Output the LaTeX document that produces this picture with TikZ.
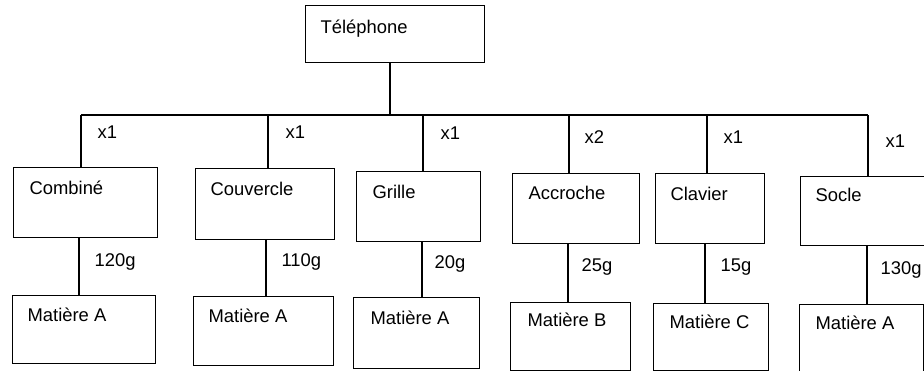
\documentclass[tikz,border=0pt]{standalone}
\usepackage{fontspec}
\setmainfont{Liberation Sans}
\begin{document}
\begin{tikzpicture}[x=0.75pt,y=-0.75pt,
  line width=0.9pt,
  every node/.style={font=\fontsize{13.8}{16}\selectfont},
  box/.style={draw,rectangle,inner sep=0pt,anchor=north west},
  boxtext/.style={anchor=base west,inner sep=0pt},
  lab/.style={anchor=base west,inner sep=0pt}]
\useasboundingbox (0,0) rectangle (924,371);
% boxes: (left,top), width, height
\node[box,minimum width=179*0.75pt,minimum height=57*0.75pt] (tel) at (305,5) {};
\node[box,minimum width=144*0.75pt,minimum height=70*0.75pt] (comb) at (13,167) {};
\node[box,minimum width=139*0.75pt,minimum height=71*0.75pt] (couv) at (195,168) {};
\node[box,minimum width=124*0.75pt,minimum height=70*0.75pt] (gril) at (356,171) {};
\node[box,minimum width=127*0.75pt,minimum height=70*0.75pt] (accr) at (512,173) {};
\node[box,minimum width=109*0.75pt,minimum height=70*0.75pt] (clav) at (655,173) {};
\node[box,minimum width=130*0.75pt,minimum height=69*0.75pt] (socl) at (800,176) {};
\node[box,minimum width=143*0.75pt,minimum height=68*0.75pt] (m1) at (12,295) {};
\node[box,minimum width=140*0.75pt,minimum height=69*0.75pt] (m2) at (193,296) {};
\node[box,minimum width=126*0.75pt,minimum height=71*0.75pt] (m3) at (353,297) {};
\node[box,minimum width=120*0.75pt,minimum height=68*0.75pt] (m4) at (510,302) {};
\node[box,minimum width=115*0.75pt,minimum height=67*0.75pt] (m5) at (653,303) {};
\node[box,minimum width=124*0.75pt,minimum height=75*0.75pt] (m6) at (799,304) {};
% box texts
\node[boxtext] (tel-t)  at ([shift={(15,28)}]tel.north west) {Téléphone};
\node[boxtext] (comb-t) at ([shift={(16,27)}]comb.north west) {Combiné};
\node[boxtext] (couv-t) at ([shift={(15,27)}]couv.north west) {Couvercle};
\node[boxtext] (gril-t) at ([shift={(16,27)}]gril.north west) {Grille};
\node[boxtext] (accr-t) at ([shift={(16,26.5)}]accr.north west) {Accroche};
\node[boxtext] (clav-t) at ([shift={(15,27)}]clav.north west) {Clavier};
\node[boxtext] (socl-t) at ([shift={(15,25.5)}]socl.north west) {Socle};
\node[boxtext] (m1-t) at ([shift={(15,26.5)}]m1.north west) {Matière A};
\node[boxtext] (m2-t) at ([shift={(15,26.5)}]m2.north west) {Matière A};
\node[boxtext] (m3-t) at ([shift={(17,27.5)}]m3.north west) {Matière A};
\node[boxtext] (m4-t) at ([shift={(17,24.5)}]m4.north west) {Matière B};
\node[boxtext] (m5-t) at ([shift={(16,25.5)}]m5.north west) {Matière C};
\node[boxtext] (m6-t) at ([shift={(16,25.5)}]m6.north west) {Matière A};
% bus
\coordinate (bus) at (390,115);
\coordinate (d1) at (81,115);
\coordinate (d2) at (268,115);
\coordinate (d3) at (423,115);
\coordinate (d4) at (569,115);
\coordinate (d5) at (707,115);
\coordinate (d6) at (868,115);
\draw (tel.south -| bus) -- (bus);
\draw (d1) -- (d6);
\draw (d1) -- (d1 |- comb.north);
\draw (d2) -- (d2 |- couv.north);
\draw (d3) -- (d3 |- gril.north);
\draw (d4) -- (d4 |- accr.north);
\draw (d5) -- (d5 |- clav.north);
\draw (d6) -- (d6 |- socl.north);
% quantity labels
\node[lab] (q1) at (97,138.5) {x1};
\node[lab] (q2) at (285,138.5) {x1};
\node[lab] (q3) at (440,139.5) {x1};
\node[lab] (q4) at (584,143.5) {x2};
\node[lab] (q5) at (723,143.5) {x1};
\node[lab] (q6) at (885,147.5) {x1};
% material connectors
\coordinate (e1) at (79,0);
\coordinate (e2) at (266,0);
\coordinate (e3) at (422,0);
\coordinate (e4) at (568,0);
\coordinate (e5) at (705,0);
\coordinate (e6) at (867,0);
\draw (e1 |- comb.south) -- (e1 |- m1.north);
\draw (e2 |- couv.south) -- (e2 |- m2.north);
\draw (e3 |- gril.south) -- (e3 |- m3.north);
\draw (e4 |- accr.south) -- (e4 |- m4.north);
\draw (e5 |- clav.south) -- (e5 |- m5.north);
\draw (e6 |- socl.south) -- (e6 |- m6.north);
% weight labels
\node[lab] (w1) at (94,266.5) {120g};
\node[lab] (w2) at (281,266.5) {110g};
\node[lab] (w3) at (434,268.5) {20g};
\node[lab] (w4) at (581,271.5) {25g};
\node[lab] (w5) at (720,271.5) {15g};
\node[lab] (w6) at (880,274.5) {130g};
\end{tikzpicture}
\end{document}
